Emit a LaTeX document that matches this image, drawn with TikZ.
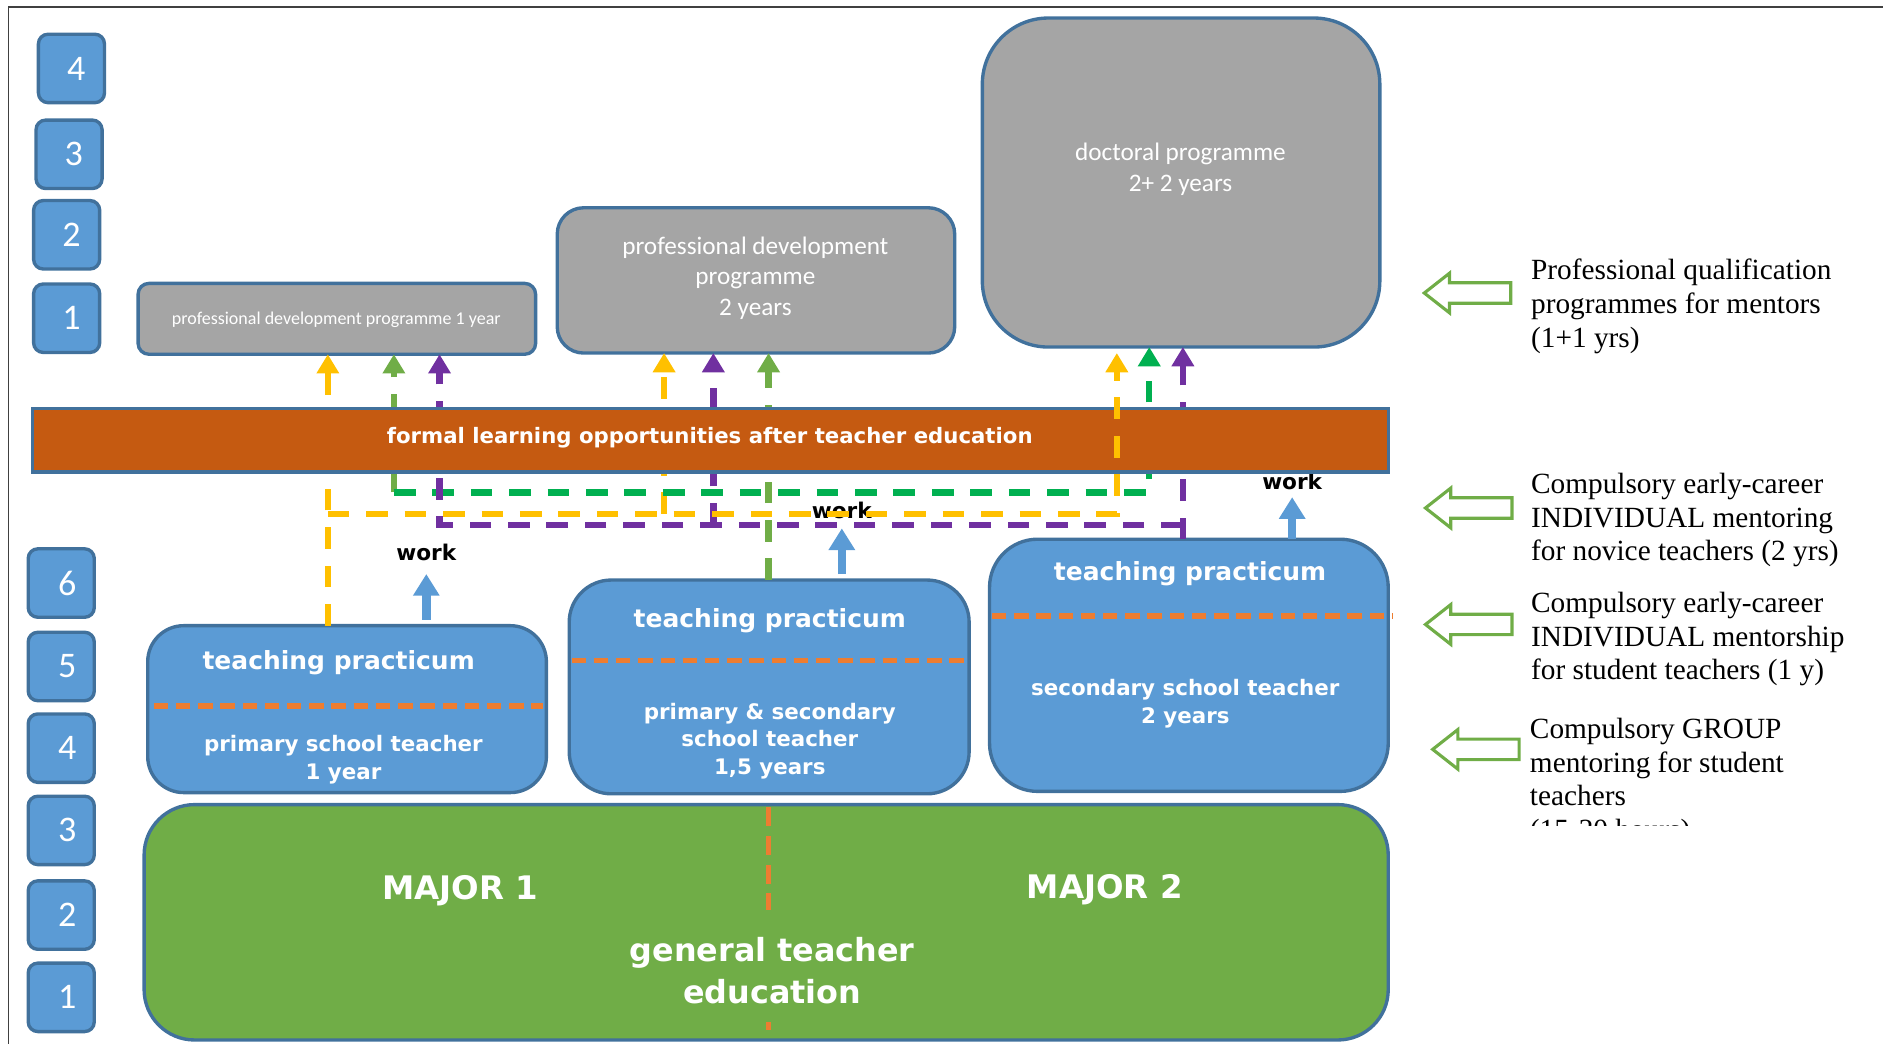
\documentclass[tikz,border=0pt]{standalone}
\usepackage{fontspec}
\setmainfont{Liberation Serif}
\newfontfamily\verd{DejaVu Sans}
\newfontfamily\calib{Carlito}
\usetikzlibrary{arrows.meta}

\definecolor{bfill}{HTML}{5B9BD5}
\definecolor{bline}{HTML}{41719C}
\definecolor{gfill}{HTML}{A5A5A5}
\definecolor{obar}{HTML}{C55A11}
\definecolor{gtfill}{HTML}{70AD47}
\definecolor{odash}{HTML}{ED7D31}
\definecolor{cyel}{HTML}{FFC000}
\definecolor{cgrn}{HTML}{00B050}
\definecolor{colv}{HTML}{70AD47}
\definecolor{cpur}{HTML}{7030A0}

\begin{document}
\begin{tikzpicture}[x=1pt,y=-1pt,
  every node/.style={inner sep=0pt,outer sep=0pt},
  numbox/.style={draw=bline,line width=2.8pt,fill=bfill,rounded corners=8pt,
    minimum width=55pt,minimum height=57pt,text=white,
    font=\calib\fontsize{30}{32}\selectfont},
  progbox/.style={draw=bline,line width=2.8pt,fill=gfill},
  pracbox/.style={draw=bline,line width=2.8pt,fill=bfill},
  progtxt/.style={text=white,align=center,font=\calib\fontsize{21}{25.5}\selectfont},
  titletxt/.style={text=white,font=\verd\bfseries\fontsize{20.8}{24}\selectfont},
  subtxt/.style={text=white,align=center,font=\verd\bfseries\fontsize{17.8}{23}\selectfont},
  majortxt/.style={text=white,align=center,font=\verd\bfseries\fontsize{27}{35}\selectfont},
  worktxt/.style={font=\verd\bfseries\fontsize{18}{20}\selectfont},
  worklink/.style={draw=bfill,line width=7pt,-{Triangle[width=21pt,length=18pt]}},
  route/.style={line width=5.3pt,dash pattern=on 18pt off 14pt,
    -{Triangle[width=18pt,length=16pt]}},
  splitline/.style={draw=odash,line width=4.5pt,dash pattern=on 12pt off 6.5pt},
  notetxt/.style={anchor=base west,font=\fontsize{24.4}{28}\selectfont},
  pointer/.pic={\draw[colv,line width=2.6pt,line join=miter]
    (0,0) -- (21,-16.5) -- (21,-8.5) -- (72,-8.5) -- (72,8.5) -- (21,8.5) -- (21,16.5) -- cycle;}
]
\useasboundingbox (0,0) rectangle (1568,869);

% page frame
\draw[black!75,line width=1.4pt] (7,869) -- (7,6) -- (1568,6);

% year counters
\node[numbox] (nu4) at (59.5,57) {\hspace*{8pt}4};
\node[numbox] (nu3) at (57.5,128.5) {\hspace*{8pt}3};
\node[numbox] (nu2) at (55.5,195.5) {\hspace*{8pt}2};
\node[numbox] (nu1) at (55.5,265) {\hspace*{8pt}1};
\node[numbox] (nl6) at (51,485.5) {\hspace*{10pt}6};
\node[numbox] (nl5) at (51,555) {\hspace*{10pt}5};
\node[numbox] (nl4) at (51,623) {\hspace*{10pt}4};
\node[numbox] (nl3) at (51,691.5) {\hspace*{10pt}3};
\node[numbox] (nl2) at (51,762) {\hspace*{10pt}2};
\node[numbox] (nl1) at (51,830.5) {\hspace*{10pt}1};

% programmes after teacher education
\node[progbox,rounded corners=9pt,minimum width=331pt,minimum height=59pt] (g1) at (280.5,265.5) {};
\node[progtxt,font=\calib\fontsize{15}{17}\selectfont] (g1t) at (280,266.5) {professional development programme 1 year};
\node[progbox,rounded corners=22pt,minimum width=331pt,minimum height=121pt] (g2) at (629.5,233.5) {};
\node[progtxt] (g2t) at (629,231.5) {professional development\\programme\\2 years};
\node[progbox,rounded corners=55pt,minimum width=331pt,minimum height=274pt] (g3) at (983.5,152) {};
\node[progtxt,font=\calib\fontsize{21}{26}\selectfont] (g3t) at (983,141) {doctoral programme\\2+ 2 years};

% teaching practicum boxes
\node[pracbox,rounded corners=30pt,minimum width=332pt,minimum height=139pt] (b1) at (289,590.5) {};
\node[pracbox,rounded corners=35pt,minimum width=333pt,minimum height=178pt] (b2) at (640.5,572) {};
\node[pracbox,rounded corners=40pt,minimum width=332pt,minimum height=210pt] (b3) at (990,554) {};
\draw[splitline] (128,588) -- (452,588);
\draw[splitline] (476,550) -- (807,550);
\draw[splitline] (826,513) -- (1160,513);
\node[titletxt] (b1t) at (282,552) {teaching practicum};
\node[subtxt] (b1s) at (286,632.5) {primary school teacher\\1 year};
\node[titletxt] (b2t) at (641,517) {teaching practicum};
\node[subtxt] (b2s) at (641,617) {primary \& secondary\\school teacher\\1,5 years};
\node[titletxt] (b3t) at (991,478) {teaching practicum};
\node[subtxt] (b3s) at (987,586) {secondary school teacher\\2 years};

% general teacher education
\node[draw=bline,line width=2.8pt,fill=gtfill,rounded corners=42pt,
  minimum width=1036pt,minimum height=196pt] (gte) at (638,768) {};
\draw[draw=odash,line width=3.8pt,dash pattern=on 16pt off 8pt] (640,672) -- (640,758);
\draw[draw=odash,line width=3.8pt] (640,851) -- (640,858);
\node[majortxt] (m1) at (383,742) {MAJOR 1};
\node[majortxt] (m2) at (920,741) {MAJOR 2};
\node[majortxt,font=\verd\bfseries\fontsize{26.5}{35}\selectfont] (gen) at (643,808) {general teacher\\education};

% work transitions
\node[worktxt] (w1t) at (355,460) {work};
\node[worktxt] (w2t) at (701,425) {work};
\node[worktxt] (w3t) at (1076,401) {work};
\coordinate (wA) at (355,478);
\coordinate (wB) at (701,440);
\coordinate (wC) at (1076,414);
\draw[worklink,shorten <=5pt] (wA |- b1.north) -- (wA);
\draw[worklink,shorten <=5pt] (wB |- b2.north) -- (wB);
\draw[worklink] (wC |- b3.north) -- (wC);

% routes into further programmes
\coordinate (yA) at (273,428);
\coordinate (yB) at (553,428);
\coordinate (yC) at (930,428);
\coordinate (gA) at (328,410);
\coordinate (gC) at (957,410);
\coordinate (oB) at (640,410);
\coordinate (pA) at (366,437);
\coordinate (pB) at (594,437);
\coordinate (pC) at (985,437);

\draw[route,cyel] (yA |- b1.north) -- (yA |- g1.south);
\draw[route,cyel] (yB) -- (yB |- g2.south);
\draw[route,colv] (gA) -- (gA |- g1.south);
\draw[route,colv] (oB |- b2.north) -- (oB |- g2.south);
\draw[route,cgrn] (gA) -- (gC) -- (gC |- g3.south);
\draw[route,cpur] (pC |- b3.north) -- (pC |- g3.south);
\draw[route,cpur] (pC) -- (pA) -- (pA |- g1.south);
\draw[route,cpur] (pB) -- (pB |- g2.south);

% formal learning bar
\node[draw=bline,line width=2.8pt,fill=obar,minimum width=1129pt,minimum height=53pt] (bar) at (591.5,366.5) {};
\node[text=white,font=\verd\bfseries\fontsize{17.7}{20}\selectfont] (bart) at (591,364.5) {formal learning opportunities after teacher education};

\draw[route,cyel,shorten >=5pt] (yA) -- (yC) -- (yC |- g3.south);

% mentoring notes
\pic at (1186,244) {pointer};
\pic at (1187,423) {pointer};
\pic at (1187,520) {pointer};
\pic at (1193,624) {pointer};

\node[notetxt] (n1a) at (1275,233) {Professional qualification};
\node[notetxt] (n1b) at (1275,261) {programmes for mentors};
\node[notetxt] (n1c) at (1275,289) {(1+1 yrs)};
\node[notetxt] (n2a) at (1275,411) {Compulsory early-career};
\node[notetxt] (n2b) at (1275,439) {INDIVIDUAL mentoring};
\node[notetxt] (n2c) at (1275,467) {for novice teachers (2 yrs)};
\node[notetxt] (n3a) at (1275,510) {Compulsory early-career};
\node[notetxt] (n3b) at (1275,538) {INDIVIDUAL mentorship};
\node[notetxt] (n3c) at (1275,566) {for student teachers (1 y)};
\node[notetxt] (n4a) at (1274,615) {Compulsory GROUP};
\node[notetxt] (n4b) at (1274,643) {mentoring for student};
\node[notetxt] (n4c) at (1274,671) {teachers};
\begin{scope}
  \clip (1260,600) rectangle (1568,687);
  \node[notetxt] (n4d) at (1274,699) {(15-20 hours)};
\end{scope}
\end{tikzpicture}
\end{document}
